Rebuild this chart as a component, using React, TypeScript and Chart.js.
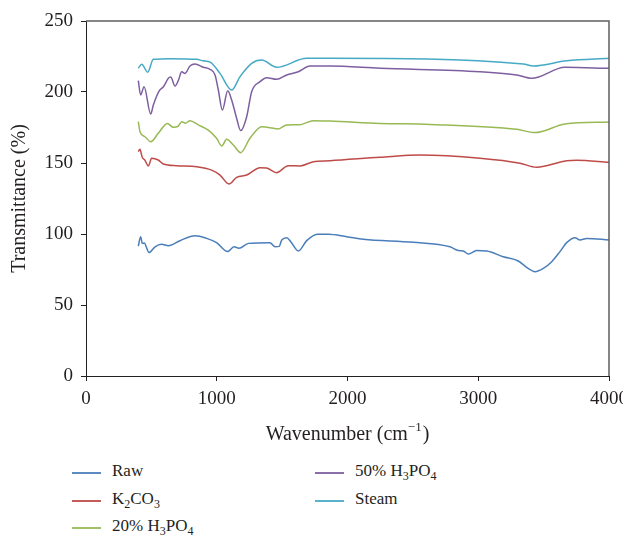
import React, { useEffect, useRef } from "react";
import { Chart, registerables } from "chart.js";

Chart.register(...registerables);

// Wavenumber (cm^-1), Transmittance (%)
const rawData: [number, number][] = [
  [400, 91.5], [418, 98.1], [431, 93.4], [445, 93.6], [482, 86.9], [528, 91], [579, 92.7], [630, 91.8],
  [719, 95.3], [834, 98.8], [923, 96.9], [999, 93.9], [1083, 87.6], [1132, 91], [1170, 90], [1242, 93.4],
  [1407, 93.9], [1446, 91], [1478, 91.3], [1497, 95.8], [1535, 97.4], [1566, 94.6], [1624, 88], [1688, 95.3],
  [1769, 99.8], [1854, 99.8], [1994, 98.1], [2121, 96.3], [2503, 94.2], [2784, 91], [2848, 88.3], [2886, 88],
  [2924, 85.9], [2988, 88.3], [3064, 88], [3191, 84], [3306, 81], [3370, 76.5], [3434, 73.5], [3498, 75.8],
  [3562, 80.5], [3625, 87.6], [3676, 93.9], [3740, 97.4], [3778, 95.8], [3829, 96.9], [4000, 95.8],
];

const k2co3Data: [number, number][] = [
  [400, 158], [413, 159.6], [430, 154], [450, 152], [477, 147.9], [502, 153.3], [553, 152.1], [592, 149.3],
  [693, 148.1], [847, 147.4], [961, 145], [1025, 141.5], [1094, 135.2], [1152, 139.9], [1229, 141.5],
  [1331, 146.7], [1382, 146.5], [1458, 143.2], [1547, 148.1], [1637, 147.9], [1739, 150.9], [1866, 151.6],
  [2249, 154], [2555, 155.6], [3013, 153.3], [3320, 149.8], [3447, 147], [3676, 151.6], [3750, 152], [4000, 150.5],
];

const h3po4_20Data: [number, number][] = [
  [400, 179.1], [413, 172], [451, 168.5], [495, 165], [553, 170.9], [622, 177.9], [668, 175.1], [706, 176],
  [732, 179.1], [760, 178], [795, 179.8], [859, 176.8], [935, 173.2], [999, 167.4], [1038, 162], [1076, 166.7],
  [1127, 162.7], [1183, 157.3], [1254, 167.4], [1344, 175.6], [1471, 174], [1535, 176.8], [1637, 177],
  [1739, 179.8], [1866, 179.5], [2249, 177.9], [2631, 177.2], [3294, 173.7], [3434, 171.4], [3663, 177.5],
  [4000, 178.9],
];

const h3po4_50Data: [number, number][] = [
  [400, 208], [418, 197.9], [444, 203.7], [495, 184.5], [515, 190.8], [561, 200.9], [592, 203.7], [630, 209.6],
  [648, 210.5], [681, 204.2], [706, 208], [732, 214.3], [757, 213.1], [795, 218.3], [834, 219.7], [897, 217.4],
  [948, 216], [987, 212], [1012, 201.4], [1043, 187.3], [1084, 200.9], [1114, 194.4], [1152, 181.5],
  [1183, 172.8], [1229, 182.6], [1267, 200.2], [1331, 207.3], [1382, 210.1], [1458, 208.9], [1535, 212],
  [1624, 214.3], [1713, 218.3], [1866, 218.3], [2249, 216.7], [3013, 214.3], [3294, 212], [3409, 209.6],
  [3663, 217.4], [4000, 216.7],
];

const steamData: [number, number][] = [
  [400, 216.7], [426, 219.5], [472, 213.9], [515, 223], [650, 223.5], [847, 223], [895, 222], [950, 221],
  [1025, 213.1], [1114, 201.4], [1178, 210.8], [1267, 220.2], [1344, 222.5], [1458, 217.4], [1688, 223.7],
  [1866, 223.7], [3345, 219.7], [3421, 218.3], [3676, 222], [4000, 223.7],
];

const xTicks = [0, 1000, 2000, 3000, 4000];
const yTicks = [0, 50, 100, 150, 200, 250];

const FONT = "'Liberation Serif', 'DejaVu Serif', serif";
const TEXT = "#231f20";

const seriesList = [
  { key: "raw", data: rawData, color: "#4a7ebb" },
  { key: "k2co3", data: k2co3Data, color: "#be4b48" },
  { key: "h20", data: h3po4_20Data, color: "#98b954" },
  { key: "h50", data: h3po4_50Data, color: "#7d5fa0" },
  { key: "steam", data: steamData, color: "#46aac5" },
];

const framePlugin = {
  id: "frame",
  afterDraw(chart: any) {
    const { ctx, chartArea } = chart;
    const { left, right, top, bottom } = chartArea;
    ctx.save();
    ctx.strokeStyle = "#5f5f5f";
    ctx.lineWidth = 1.5;
    ctx.beginPath();
    ctx.moveTo(left, top);
    ctx.lineTo(right, top);
    ctx.lineTo(right, bottom);
    ctx.stroke();
    // x-axis title with superscript
    const cx = (left + right) / 2;
    const baseY = 432;
    const mainFont = `20px ${FONT}`;
    const supFont = `13px ${FONT}`;
    const p1 = "Wavenumber (cm";
    const p2 = "\u22121";
    const p3 = ")";
    ctx.font = mainFont;
    const w1 = ctx.measureText(p1).width;
    const w3 = ctx.measureText(p3).width;
    ctx.font = supFont;
    const w2 = ctx.measureText(p2).width + 1;
    const total = w1 + w2 + w3;
    let x = cx - total / 2;
    ctx.fillStyle = TEXT;
    ctx.textBaseline = "alphabetic";
    ctx.textAlign = "left";
    ctx.font = mainFont;
    ctx.fillText(p1, x, baseY);
    x += w1;
    ctx.font = supFont;
    ctx.fillText(p2, x, baseY - 9);
    x += w2;
    ctx.font = mainFont;
    ctx.fillText(p3, x, baseY);
    ctx.restore();
  },
};

const legendLeft = [
  { label: ["Raw"], color: "#4a7ebb" },
  { label: ["K", "2", "CO", "3"], color: "#be4b48" },
  { label: ["20% H", "3", "PO", "4"], color: "#98b954" },
];
const legendRight = [
  { label: ["50% H", "3", "PO", "4"], color: "#7d5fa0" },
  { label: ["Steam"], color: "#46aac5" },
];

function LegendItem({ item, x, y }: { item: { label: string[]; color: string }; x: number; y: number }) {
  return (
    <>
      <div
        style={{ position: "absolute", left: x, top: y, width: 29, height: 2, background: item.color, opacity: 0.9 }}
      />
      <div
        style={{
          position: "absolute",
          left: x + 40,
          top: y - 11,
          font: `17px ${FONT}`,
          lineHeight: "20px",
          color: TEXT,
          whiteSpace: "nowrap",
        }}
      >
        {item.label.map((part, i) =>
          i % 2 === 1 ? (
            <span key={i} style={{ fontSize: 12, verticalAlign: -4, lineHeight: 0 }}>
              {part}
            </span>
          ) : (
            <span key={i}>{part}</span>
          )
        )}
      </div>
    </>
  );
}

const legendRows = [464, 492, 519];

export default function App() {
  const canvasRef = useRef<HTMLCanvasElement | null>(null);

  useEffect(() => {
    if (!canvasRef.current) return;
    const chart = new Chart(canvasRef.current, {
      type: "line",
      data: {
        datasets: seriesList.map((s) => ({
          label: s.key,
          data: s.data.map(([x, y]) => ({ x, y })),
          borderColor: s.color,
          backgroundColor: s.color,
          borderWidth: 1.5,
          pointRadius: 0,
          cubicInterpolationMode: "monotone" as const,
          fill: false,
        })),
      },
      options: {
        animation: false,
        responsive: true,
        maintainAspectRatio: false,
        layout: { padding: { top: 13, right: 22, left: 0, bottom: 0 } },
        plugins: { legend: { display: false }, tooltip: { enabled: false } },
        scales: {
          x: {
            type: "linear",
            min: 0,
            max: 4000,
            afterBuildTicks: (scale: any) => {
              scale.ticks = xTicks.map((v) => ({ value: v }));
            },
            afterFit: (scale: any) => {
              scale.height = 72;
              scale.paddingLeft = 0;
              scale.paddingRight = 0;
            },
            ticks: {
              font: { family: FONT, size: 19 },
              color: TEXT,
              padding: 7,
              maxRotation: 0,
              callback: (v: any) => String(v),
            },
            grid: { drawOnChartArea: false, drawTicks: true, tickLength: 5, color: TEXT },
            border: { color: TEXT, width: 1 },
          },
          y: {
            type: "linear",
            min: 0,
            max: 250,
            afterBuildTicks: (scale: any) => {
              scale.ticks = yTicks.map((v) => ({ value: v }));
            },
            afterFit: (scale: any) => {
              scale.width = 78;
              scale.paddingTop = 0;
              scale.paddingBottom = 0;
            },
            ticks: {
              font: { family: FONT, size: 19 },
              color: TEXT,
              padding: 8,
              callback: (v: any) => String(v),
            },
            grid: { drawOnChartArea: false, drawTicks: true, tickLength: 5, color: TEXT },
            border: { color: TEXT, width: 1 },
            title: {
              display: true,
              text: "Transmittance (%)",
              font: { family: FONT, size: 20 },
              color: TEXT,
              padding: { top: 0, bottom: 0 },
            },
          },
        },
      },
      plugins: [framePlugin],
    });
    return () => chart.destroy();
  }, []);

  return (
    <div style={{ position: "relative", width: 615, height: 527 }}>
      <div style={{ position: "absolute", left: 0, top: 0, width: 623, height: 440 }}>
        <canvas ref={canvasRef} />
      </div>
      {legendLeft.map((item, i) => (
        <LegendItem key={"l" + i} item={item} x={64} y={legendRows[i]} />
      ))}
      {legendRight.map((item, i) => (
        <LegendItem key={"r" + i} item={item} x={307} y={legendRows[i]} />
      ))}
    </div>
  );
}
